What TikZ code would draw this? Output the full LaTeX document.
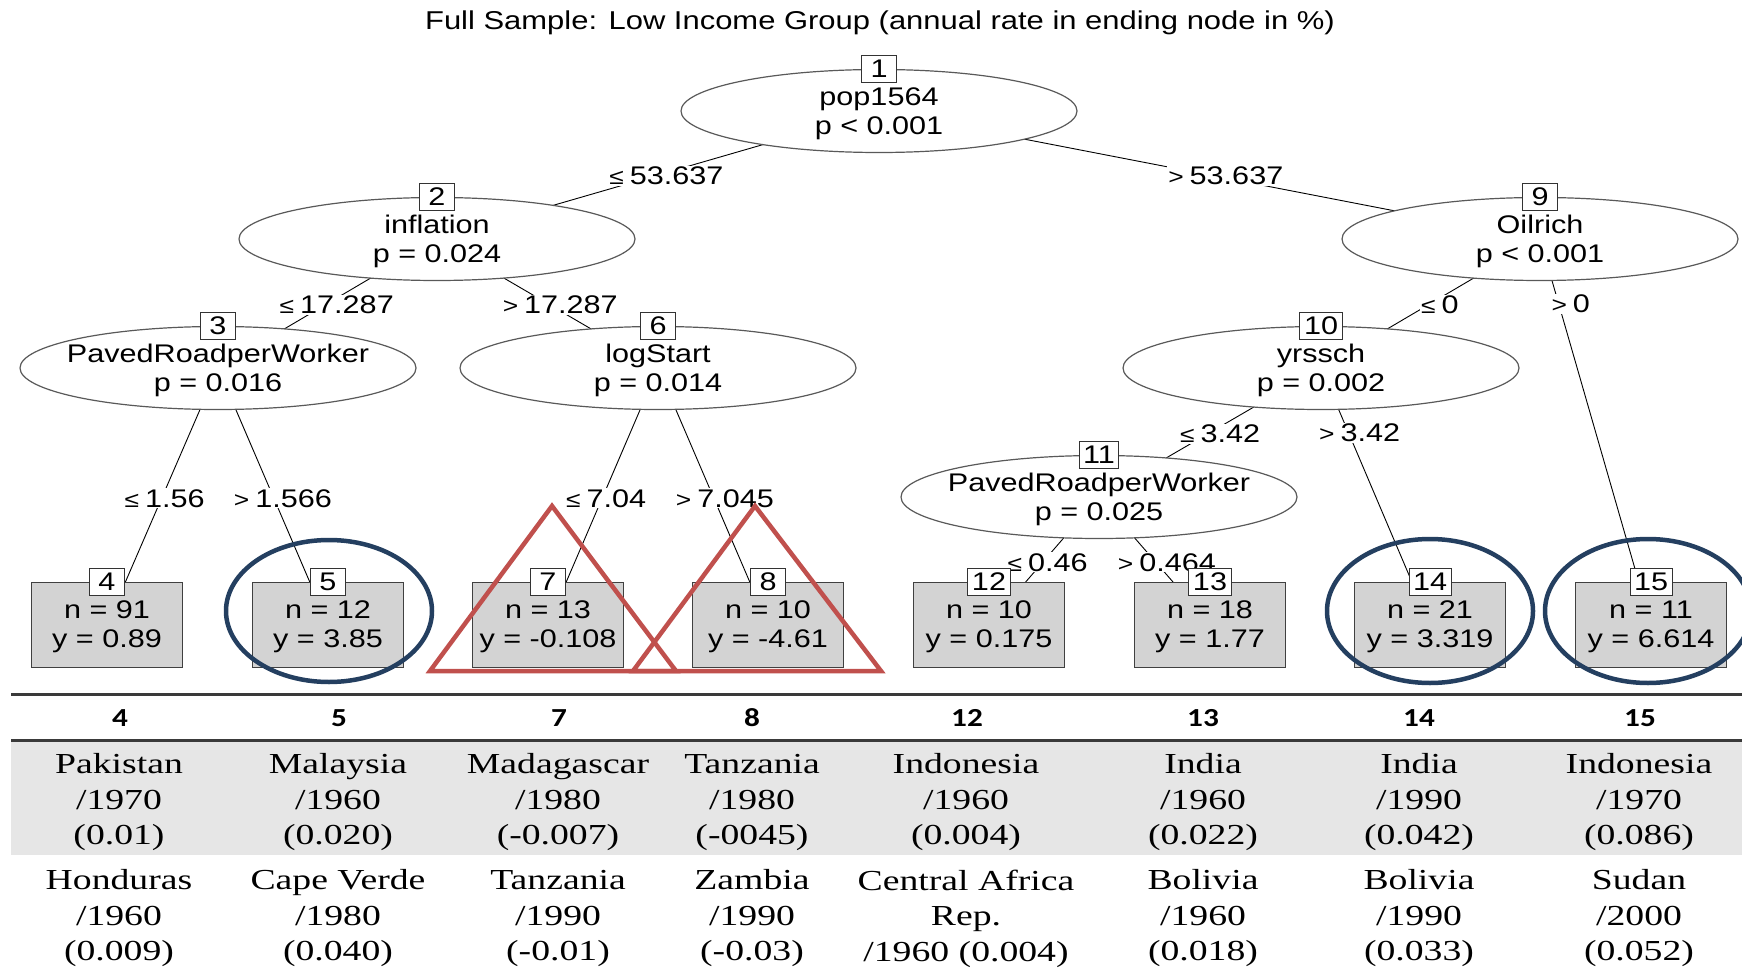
\documentclass[tikz,border=0pt]{standalone}
\usepackage{fontspec}
\usetikzlibrary{shapes.geometric}
\newfontfamily\treefont[FakeStretch=1.2]{Liberation Sans}
\newfontfamily\tabfont[FakeStretch=1.3]{Liberation Serif}
\newfontfamily\hdrfont[FakeStretch=1.2]{Carlito}
\definecolor{navy}{HTML}{243F60}
\definecolor{tred}{HTML}{C0504D}
\definecolor{termgray}{HTML}{D3D3D3}
\definecolor{bandgray}{HTML}{E6E6E6}
\definecolor{rulegray}{HTML}{3A3A3A}
\pgfdeclarelayer{background}
\pgfsetlayers{background,main}
\newcommand\lesym{{\fontsize{22}{22}\selectfont ≤}\hspace{6pt}}
\newcommand\gtsym{{\fontsize{22}{22}\selectfont >}\hspace{6pt}}
\begin{document}
\begin{tikzpicture}[x=1pt,y=-1pt,
  every node/.style={font=\treefont\fontsize{25.5}{29}\selectfont},
  inner/.style={ellipse, draw=black!65, line width=1.2pt, fill=white, minimum width=396pt, minimum height=83pt, inner xsep=-70pt, inner ysep=0pt, text depth=-3.5pt, align=center},
  idbox/.style={draw=black!80, line width=1pt, fill=white, minimum width=35pt, minimum height=27pt, inner xsep=4pt, inner ysep=0pt},
  term/.style={rectangle, draw=black!75, line width=1pt, fill=termgray, minimum width=151pt, minimum height=85pt, align=center, inner sep=0pt, text depth=-9pt},
  conn/.style={draw=black, line width=0.9pt},
  lbl/.style={fill=white, inner sep=1pt},
  hl/.style={draw=navy, line width=4.5pt},
  tri/.style={draw=tred, line width=4.5pt, line join=miter},
  hdr/.style={font=\hdrfont\bfseries\fontsize{26}{29}\selectfont},
  cell/.style={font=\tabfont\fontsize{29}{35.5}\selectfont, align=center, inner sep=0pt}]
\useasboundingbox (0,0) rectangle (1742,968);
\clip (0,0) rectangle (1742,968);

\node[font=\treefont\fontsize{25.8}{29}\selectfont] (title) at (880,22.5) {Full Sample: Low Income Group (annual rate in ending node in \%)};

% inner nodes
\node[inner] (n1) at (879,111) {pop1564\\p < 0.001};
\node[inner] (n2) at (437,239) {inflation\\p = 0.024};
\node[inner] (n9) at (1540,239) {Oilrich\\p < 0.001};
\node[inner] (n3) at (218,368) {PavedRoadperWorker\\p = 0.016};
\node[inner] (n6) at (658,368) {logStart\\p = 0.014};
\node[inner] (n10) at (1321,368) {yrssch\\p = 0.002};
\node[inner] (n11) at (1099,497) {PavedRoadperWorker\\p = 0.025};

% terminal nodes
\node[term] (t4) at (107,624.5) {n = 91\\y = 0.89};
\node[term] (t5) at (328,624.5) {n = 12\\y = 3.85};
\node[term] (t7) at (548,624.5) {n = 13\\y = -0.108};
\node[term] (t8) at (768,624.5) {n = 10\\y = -4.61};
\node[term] (t12) at (989,624.5) {n = 10\\y = 0.175};
\node[term] (t13) at (1210,624.5) {n = 18\\y = 1.77};
\node[term] (t14) at (1430,624.5) {n = 21\\y = 3.319};
\node[term] (t15) at (1651,624.5) {n = 11\\y = 6.614};

% id boxes
\node[idbox] (b1) at (n1.north) {1};
\node[idbox] (b2) at (n2.north) {2};
\node[idbox] (b9) at (n9.north) {9};
\node[idbox] (b3) at (n3.north) {3};
\node[idbox] (b6) at (n6.north) {6};
\node[idbox] (b10) at (n10.north) {10};
\node[idbox] (b11) at (n11.north) {11};
\node[idbox] (b4) at (t4.north) {4};
\node[idbox] (b5) at (t5.north) {5};
\node[idbox] (b7) at (t7.north) {7};
\node[idbox] (b8) at (t8.north) {8};
\node[idbox] (b12) at (t12.north) {12};
\node[idbox] (b13) at (t13.north) {13};
\node[idbox] (b14) at (t14.north) {14};
\node[idbox] (b15) at (t15.north) {15};

% connectors
\begin{pgfonlayer}{background}
\draw[conn] (n1.center) -- node[lbl, pos=0.508, xshift=12pt] {\lesym 53.637} (n2.center);
\draw[conn] (n1.center) -- node[lbl, pos=0.508, xshift=11pt] {\gtsym 53.637} (n9.center);
\draw[conn] (n2.center) -- node[lbl, pos=0.508, xshift=11pt] {\lesym 17.287} (n3.center);
\draw[conn] (n2.center) -- node[lbl, pos=0.508, xshift=11pt] {\gtsym 17.287} (n6.center);
\draw[conn] (n9.center) -- node[lbl, pos=0.508, xshift=11pt] {\lesym 0} (n10.center);
\draw[conn] (n9.center) -- node[lbl, pos=0.169, xshift=12pt] {\gtsym 0} (t15.center);
\draw[conn] (n10.center) -- node[lbl, pos=0.508, xshift=12pt] {\lesym 3.42} (n11.center);
\draw[conn] (n10.center) -- node[lbl, pos=0.254, xshift=11pt] {\gtsym 3.42} (t14.center);
\draw[conn] (n3.center) -- node[lbl, pos=0.508, xshift=3pt] {\lesym 1.56} (t4.center);
\draw[conn] (n3.center) -- node[lbl, pos=0.508, xshift=9pt] {\gtsym 1.566} (t5.center);
\draw[conn] (n6.center) -- node[lbl, pos=0.508, xshift=4pt] {\lesym 7.04} (t7.center);
\draw[conn] (n6.center) -- node[lbl, pos=0.508, xshift=11pt] {\gtsym 7.045} (t8.center);
\draw[conn] (n11.center) -- node[lbl, pos=0.512, xshift=5pt] {\lesym 0.46} (t12.center);
\draw[conn] (n11.center) -- node[lbl, pos=0.512, xshift=11pt] {\gtsym 0.464} (t13.center);
\end{pgfonlayer}

% highlights
\draw[hl] (329,611) ellipse [x radius=103pt, y radius=71pt];
\draw[hl] (1430,611) ellipse [x radius=103pt, y radius=72pt];
\draw[hl] (1648,611) ellipse [x radius=103pt, y radius=72pt];
\draw[tri] (552,506) -- (430,671) -- (676,671) -- cycle;
\draw[tri] (755,506) -- (633,671) -- (881,671) -- cycle;

% table
\fill[bandgray] (11,741) rectangle (1742,855);
\draw[rulegray, line width=3pt] (11,694) -- (1742,694);
\draw[rulegray, line width=3pt] (11,740) -- (1742,740);

\node[hdr] (h4) at (120,718) {4};
\node[hdr] (h5) at (339,718) {5};
\node[hdr] (h7) at (559,718) {7};
\node[hdr] (h8) at (752,718) {8};
\node[hdr] (h12) at (967,718) {12};
\node[hdr] (h13) at (1203,718) {13};
\node[hdr] (h14) at (1419,718) {14};
\node[hdr] (h15) at (1640,718) {15};

\node[cell] (a4) at (119,802.5) {Pakistan\\/1970\\(0.01)};
\node[cell] (a5) at (338,802.5) {Malaysia\\/1960\\(0.020)};
\node[cell] (a7) at (558,802.5) {Madagascar\\/1980\\(-0.007)};
\node[cell] (a8) at (752,802.5) {Tanzania\\/1980\\(-0045)};
\node[cell] (a12) at (966,802.5) {Indonesia\\/1960\\(0.004)};
\node[cell] (a13) at (1203,802.5) {India\\/1960\\(0.022)};
\node[cell] (a14) at (1419,802.5) {India\\/1990\\(0.042)};
\node[cell] (a15) at (1639,802.5) {Indonesia\\/1970\\(0.086)};

\node[cell] (c4) at (119,918.5) {Honduras\\/1960\\(0.009)};
\node[cell] (c5) at (338,918.5) {Cape Verde\\/1980\\(0.040)};
\node[cell] (c7) at (558,918.5) {Tanzania\\/1990\\(-0.01)};
\node[cell] (c8) at (752,918.5) {Zambia\\/1990\\(-0.03)};
\node[cell] (c12) at (966,918.5) {Central Africa\\Rep.\\/1960 (0.004)};
\node[cell] (c13) at (1203,918.5) {Bolivia\\/1960\\(0.018)};
\node[cell] (c14) at (1419,918.5) {Bolivia\\/1990\\(0.033)};
\node[cell] (c15) at (1639,918.5) {Sudan\\/2000\\(0.052)};
\end{tikzpicture}
\end{document}
